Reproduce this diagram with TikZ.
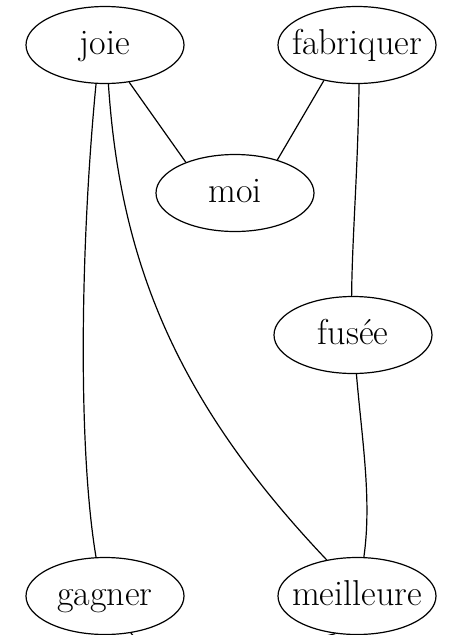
\documentclass[tikz,border=0pt]{standalone}
\usetikzlibrary{shapes.geometric}
\tikzset{
  wordnode/.style = {ellipse, draw=black, line width=1.2pt, inner xsep=-12pt,
    inner ysep=-4pt, minimum width=158pt, minimum height=77pt,
    text height=25pt, text depth=7pt, font=\fontsize{36}{42}\selectfont},
  link/.style = {line width=1.2pt}
}

\begin{document}
\begin{tikzpicture}[x=1pt,y=-1pt]
\clip (0,0) rectangle (450,635);

\node[wordnode](joie) at (105,45) {joie};
\node[wordnode](fabriquer) at (357,45) {fabriquer};
\node[wordnode](moi) at (235,193) {moi};
\node[wordnode](fusee) at (353,335) {fus\'ee};
\node[wordnode](gagner) at (105,596) {gagner};
\node[wordnode](meilleure) at (357,596) {meilleure};
\coordinate (gout) at (165,675);
\coordinate (mout) at (215,665);

\draw[link] (joie.-57) -- (moi.148);
\draw[link] (fabriquer.-133) -- (moi.38);
\draw[link] (joie.-103) .. controls (80,250) and (78,450) .. (gagner.103);
\draw[link] (joie.-85) .. controls (120,260) and (175,400) .. (meilleure.130);
\draw[link] (fabriquer.-87) .. controls (358,170) and (352,240) .. (fusee.92);
\draw[link] (fusee.-85) .. controls (362,440) and (372,500) .. (meilleure.80);
\draw[link] (gagner.-55) -- (gout);
\draw[link] (meilleure.-120) -- (mout);
\end{tikzpicture}
\end{document}
